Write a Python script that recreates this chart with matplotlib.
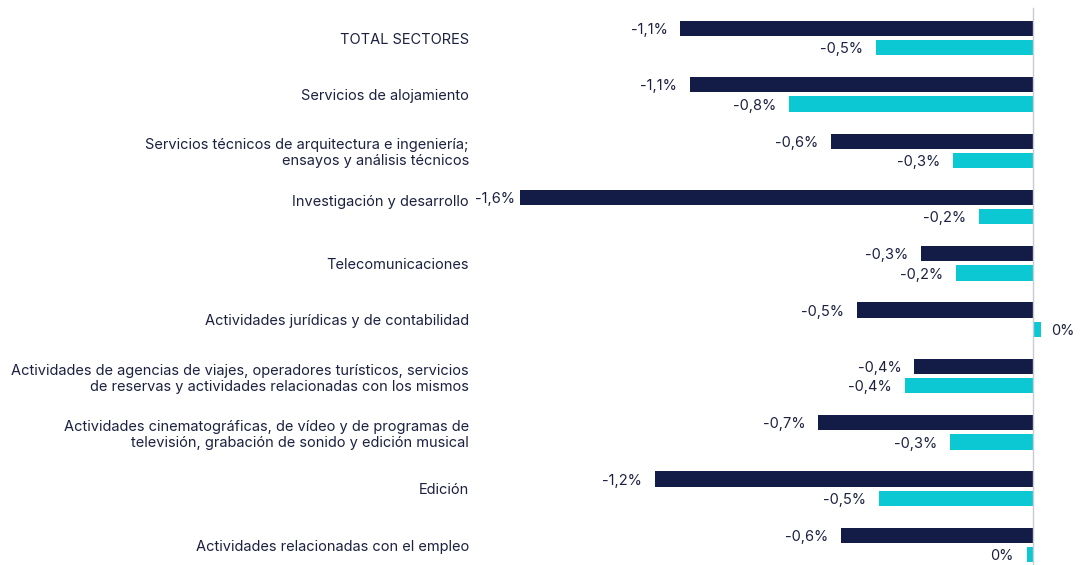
import matplotlib
matplotlib.use('Agg')
import numpy as np
from matplotlib import pyplot as plt

plt.rcParams['font.family'] = ['Inter', 'DejaVu Sans']

# Categorias y valores (variacion %)
sectores = [
    "TOTAL SECTORES",
    "Servicios de alojamiento",
    "Servicios técnicos de arquitectura e ingeniería;\nensayos y análisis técnicos",
    "Investigación y desarrollo\n ",
    "Telecomunicaciones",
    "Actividades jurídicas y de contabilidad",
    "Actividades de agencias de viajes, operadores turísticos, servicios\nde reservas y actividades relacionadas con los mismos",
    "Actividades cinematográficas, de vídeo y de programas de\ntelevisión, grabación de sonido y edición musical",
    "Edición",
    "Actividades relacionadas con el empleo",
]
serie1 = [-1.10, -1.07, -0.63, -1.60, -0.35, -0.55, -0.37, -0.67, -1.18, -0.60]
serie2 = [-0.49, -0.76, -0.25, -0.17, -0.24, 0.025, -0.40, -0.26, -0.48, -0.02]
etiq1 = ["-1,1%", "-1,1%", "-0,6%", "-1,6%", "-0,3%", "-0,5%", "-0,4%", "-0,7%", "-1,2%", "-0,6%"]
etiq2 = ["-0,5%", "-0,8%", "-0,3%", "-0,2%", "-0,2%", "0%", "-0,4%", "-0,3%", "-0,5%", "0%"]

col1 = '#131b47'
col2 = '#0bc8d3'
txt = '#1c2140'

fig = plt.figure(figsize=(10.86, 5.65), dpi=100)
ax = fig.add_axes([475/1086, 0, 611/1086, 1])

y = np.arange(len(sectores))
h = 0.27
off = 0.17
ax.barh(y - off, serie1, height=h, color=col1)
ax.barh(y + off, serie2, height=h, color=col2)

# etiquetas de valor (sin salir del area del grafico)
for i in range(len(sectores)):
    for v, lab, yy in [(serie1[i], etiq1[i], y[i] - off), (serie2[i], etiq2[i], y[i] + off)]:
        if v >= 0:
            ax.text(v + 0.03, yy + 0.03, lab, ha='left', va='center', fontsize=10.5, color=txt)
        else:
            xpos = max(v - 0.04, -1.731 + 0.115)
            ax.text(xpos, yy + 0.03, lab, ha='right', va='center', fontsize=10.5, color=txt)

ax.axvline(0, ymin=0, ymax=0.985, color='#c9cbd6', linewidth=1)

ax.set_xlim(-1.74, 0.165)
ax.set_ylim(9.355, -0.675)
ax.set_yticks(y)
ax.set_yticklabels(sectores, fontsize=10.5, color=txt)
ax.tick_params(axis='y', length=0, pad=4.5)
ax.set_xticks([])
for s in ax.spines.values():
    s.set_visible(False)

plt.savefig('out.png', dpi=100)
